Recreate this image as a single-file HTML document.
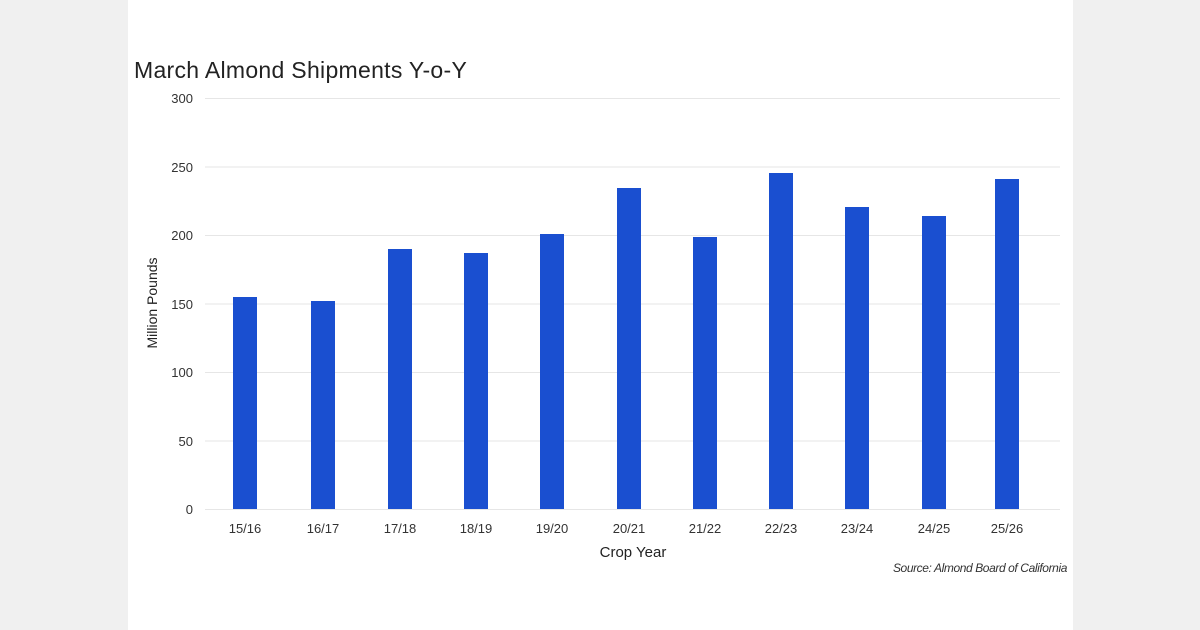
<!DOCTYPE html>
<html><head><meta charset="utf-8"><style>
body{margin:0;width:1200px;height:630px;background:#f0f0f0;overflow:hidden;font-family:"Liberation Sans",sans-serif}
</style></head><body>
<svg width="1200" height="630" xmlns="http://www.w3.org/2000/svg" style="position:absolute;left:0;top:0">
<rect x="0" y="0" width="1200" height="630" fill="#f0f0f0"/>
<rect x="128" y="0" width="945" height="630" fill="#ffffff"/>
<text x="134" y="78" font-size="23" letter-spacing="0.3" fill="#222">March Almond Shipments Y-o-Y</text>
<g stroke="#e6e6e6" stroke-width="1">
<line x1="205" x2="1060" y1="98.5" y2="98.5"/>
<line x1="205" x2="1060" y1="167" y2="167"/>
<line x1="205" x2="1060" y1="235.5" y2="235.5"/>
<line x1="205" x2="1060" y1="304" y2="304"/>
<line x1="205" x2="1060" y1="372.5" y2="372.5"/>
<line x1="205" x2="1060" y1="441" y2="441"/>
<line x1="205" x2="1060" y1="509.5" y2="509.5"/>
</g>
<g font-size="13" fill="#333" text-anchor="end">
<text x="193" y="103">300</text><text x="193" y="172">250</text><text x="193" y="240">200</text>
<text x="193" y="309">150</text><text x="193" y="377">100</text><text x="193" y="446">50</text><text x="193" y="514">0</text>
</g>
<g fill="#1a4fd0">
<rect x="233" y="297" width="24" height="212"/>
<rect x="311" y="301" width="24" height="208"/>
<rect x="388" y="249" width="24" height="260"/>
<rect x="464" y="253" width="24" height="256"/>
<rect x="540" y="234" width="24" height="275"/>
<rect x="617" y="188" width="24" height="321"/>
<rect x="693" y="237" width="24" height="272"/>
<rect x="769" y="173" width="24" height="336"/>
<rect x="845" y="207" width="24" height="302"/>
<rect x="922" y="216" width="24" height="293"/>
<rect x="995" y="179" width="24" height="330"/>
</g>
<g font-size="13" fill="#333" text-anchor="middle">
<text x="245" y="533">15/16</text><text x="323" y="533">16/17</text><text x="400" y="533">17/18</text>
<text x="476" y="533">18/19</text><text x="552" y="533">19/20</text><text x="629" y="533">20/21</text>
<text x="705" y="533">21/22</text><text x="781" y="533">22/23</text><text x="857" y="533">23/24</text>
<text x="934" y="533">24/25</text><text x="1007" y="533">25/26</text>
</g>
<text x="633" y="557" font-size="15" fill="#222" text-anchor="middle">Crop Year</text>
<text transform="translate(157,303) rotate(-90)" font-size="14" fill="#222" text-anchor="middle">Million Pounds</text>
<text x="1067" y="572" font-size="12" font-style="italic" fill="#333" text-anchor="end" letter-spacing="-0.4">Source: Almond Board of California</text>
</svg>
</body></html>
